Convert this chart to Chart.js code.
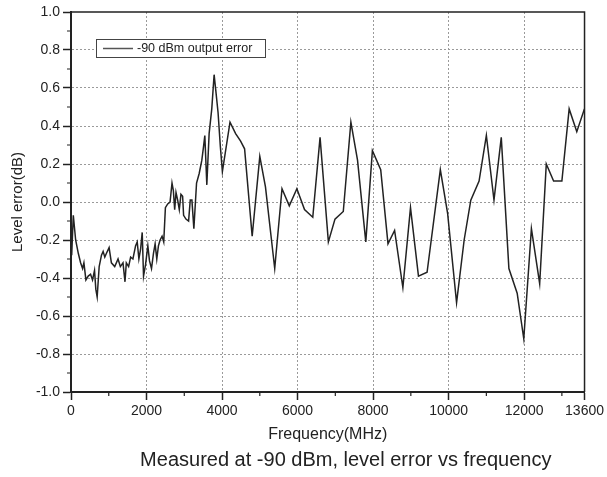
<!DOCTYPE html>
<html lang="en">
<head>
    <meta charset="UTF-8">
    <title>Level error vs frequency</title>
    <script src="https://cdn.jsdelivr.net/npm/chart.js"></script>
    <style>
        body {
            margin: 0;
            padding: 0;
            background: #ffffff;
        }
        canvas {
            display: block;
        }
    </style>
</head>
<body>
    <canvas id="errorChart" width="607" height="477"></canvas>

    <script>
        // frequency points (MHz) and level error (dB)
        const freqs = [18, 61, 123, 193, 254, 307, 342, 395, 456, 518,
            570, 623, 658, 693, 746, 807, 851, 895, 939, 1009,
            1070, 1158, 1246, 1307, 1377, 1430, 1465, 1526, 1579, 1640,
            1711, 1754, 1798, 1842, 1886, 1921, 1974, 2035, 2079, 2132,
            2184, 2228, 2272, 2316, 2360, 2412, 2456, 2500, 2561, 2623,
            2675, 2711, 2746, 2781, 2825, 2868, 2912, 2956, 2982, 3044,
            3114, 3158, 3202, 3254, 3325, 3395, 3465, 3509, 3544, 3597,
            3658, 3728, 3790, 3833, 3895, 3956, 4009, 4211, 4360, 4492,
            4597, 4798, 5000, 5150, 5395, 5588, 5781, 5982, 6184, 6403,
            6596, 6816, 6991, 7211, 7412, 7588, 7807, 7982, 8202, 8395,
            8570, 8789, 8991, 9202, 9430, 9781, 9974, 10211, 10412, 10588,
            10807, 11000, 11202, 11395, 11597, 11816, 11991, 12193, 12412, 12587,
            12781, 13000, 13193, 13395, 13597];

        const errs = [-0.28, -0.07, -0.20, -0.27, -0.32, -0.35, -0.32, -0.41, -0.39, -0.38,
            -0.41, -0.36, -0.46, -0.50, -0.34, -0.28, -0.26, -0.29, -0.27, -0.24,
            -0.32, -0.34, -0.30, -0.34, -0.32, -0.42, -0.32, -0.34, -0.29, -0.30,
            -0.23, -0.21, -0.30, -0.25, -0.16, -0.39, -0.33, -0.23, -0.31, -0.35,
            -0.27, -0.22, -0.30, -0.23, -0.20, -0.18, -0.21, -0.03, -0.01, 0.00,
            0.10, 0.06, -0.04, 0.05, 0.01, -0.04, 0.04, 0.03, -0.07, -0.09,
            -0.10, 0.01, 0.01, -0.14, 0.10, 0.15, 0.22, 0.29, 0.35, 0.09,
            0.36, 0.49, 0.67, 0.59, 0.47, 0.29, 0.16, 0.42, 0.36, 0.32,
            0.28, -0.18, 0.24, 0.08, -0.35, 0.07, -0.02, 0.07, -0.04, -0.08,
            0.34, -0.21, -0.09, -0.05, 0.42, 0.22, -0.21, 0.27, 0.17, -0.22,
            -0.15, -0.45, -0.03, -0.39, -0.37, 0.17, -0.06, -0.53, -0.20, 0.01,
            0.11, 0.35, 0.01, 0.34, -0.35, -0.48, -0.72, -0.14, -0.43, 0.20,
            0.11, 0.11, 0.49, 0.37, 0.49];

        const xTicks = [0, 2000, 4000, 6000, 8000, 10000, 12000, 13600];
        const xMinor = [1000, 3000, 5000, 7000, 9000, 11000, 13000];
        const yTicks = [-1.0, -0.8, -0.6, -0.4, -0.2, 0.0, 0.2, 0.4, 0.6, 0.8, 1.0];
        const yMinor = [-0.9, -0.7, -0.5, -0.3, -0.1, 0.1, 0.3, 0.5, 0.7, 0.9];

        const seriesLabel = "-90 dBm output error";
        const ink = "#222222";
        const gridGray = "#9a9a9a";

        // top/right frame, minor ticks and the boxed legend inside the plot
        const framePlugin = {
            id: "frame",
            afterLayout(chart) {
                // the caption sits a bit right of the canvas centre in the original
                const t = chart.titleBlock;
                if (t) {
                    t.left = chart.chartArea.left + 36;
                    t.right = chart.chartArea.right;
                }
            },
            afterDraw(chart) {
                const { ctx, chartArea: a, scales } = chart;
                ctx.save();
                ctx.strokeStyle = ink;
                ctx.lineWidth = 1.5;
                ctx.beginPath();
                ctx.moveTo(a.left, a.top);
                ctx.lineTo(a.right, a.top);
                ctx.lineTo(a.right, a.bottom);
                ctx.stroke();

                ctx.lineWidth = 1.2;
                ctx.beginPath();
                xMinor.forEach(v => {
                    const px = scales.x.getPixelForValue(v);
                    ctx.moveTo(px, a.bottom);
                    ctx.lineTo(px, a.bottom + 4);
                });
                yMinor.forEach(v => {
                    const py = scales.y.getPixelForValue(v);
                    ctx.moveTo(a.left - 4, py);
                    ctx.lineTo(a.left, py);
                });
                ctx.stroke();

                // legend box
                const bx = a.left + 25, by = a.top + 27, bw = 169, bh = 18;
                ctx.fillStyle = "#ffffff";
                ctx.fillRect(bx, by, bw, bh);
                ctx.strokeStyle = "#444444";
                ctx.lineWidth = 1;
                ctx.strokeRect(bx + 0.5, by + 0.5, bw, bh);
                ctx.strokeStyle = "#555555";
                ctx.lineWidth = 1.5;
                ctx.beginPath();
                ctx.moveTo(bx + 7, by + bh / 2 + 0.5);
                ctx.lineTo(bx + 37, by + bh / 2 + 0.5);
                ctx.stroke();
                ctx.fillStyle = ink;
                ctx.font = "12.5px 'Liberation Sans', Arial, sans-serif";
                ctx.textBaseline = "middle";
                ctx.fillText(chart.data.datasets[0].label, bx + 41, by + bh / 2 + 1);
                ctx.restore();
            }
        };

        const errorChart = new Chart(document.getElementById("errorChart"), {
            type: "line",
            data: {
                datasets: [{
                    label: seriesLabel,
                    data: freqs.map((f, i) => ({ x: f, y: errs[i] })),
                    borderColor: ink,
                    borderWidth: 1.5,
                    pointRadius: 0,
                    tension: 0,
                    fill: false
                }]
            },
            options: {
                responsive: false,
                animation: false,
                devicePixelRatio: 1,
                layout: { padding: { top: 12, right: 20, left: 0, bottom: 0 } },
                font: { family: "'Liberation Sans', Arial, sans-serif" },
                plugins: {
                    legend: { display: false },
                    tooltip: { enabled: false },
                    title: {
                        display: true,
                        position: "bottom",
                        text: "Measured at -90 dBm, level error vs frequency",
                        color: ink,
                        font: { size: 20, weight: "normal", family: "'Liberation Sans', Arial, sans-serif" },
                        padding: { top: 4, bottom: 5 }
                    }
                },
                scales: {
                    x: {
                        type: "linear",
                        min: 0,
                        max: 13600,
                        afterBuildTicks: s => { s.ticks = xTicks.map(v => ({ value: v })); },
                        afterFit: s => { s.height = 52; },
                        ticks: {
                            color: ink,
                            padding: 3,
                            maxRotation: 0,
                            autoSkip: false,
                            font: { size: 14 },
                            callback: v => String(v)
                        },
                        grid: {
                            color: c => (c.tick && (c.tick.value === 0 || c.tick.value === 13600)) ? "rgba(0,0,0,0)" : gridGray,
                            lineWidth: 1,
                            tickColor: ink,
                            tickLength: 8,
                            tickWidth: 1.5
                        },
                        border: { color: ink, width: 2, dash: [2, 2] },
                        title: {
                            display: true,
                            text: "Frequency(MHz)",
                            color: ink,
                            font: { size: 16 },
                            padding: { top: 0, bottom: 0 }
                        }
                    },
                    y: {
                        min: -1,
                        max: 1,
                        afterBuildTicks: s => { s.ticks = yTicks.map(v => ({ value: v })); },
                        afterFit: s => { s.width = 71; },
                        ticks: {
                            color: ink,
                            padding: 3,
                            font: { size: 14 },
                            callback: v => v.toFixed(1)
                        },
                        grid: {
                            color: c => (c.tick && Math.abs(Math.abs(c.tick.value) - 1) < 1e-9) ? "rgba(0,0,0,0)" : gridGray,
                            lineWidth: 1,
                            tickColor: ink,
                            tickLength: 8,
                            tickWidth: 1.5
                        },
                        border: { color: ink, width: 2, dash: [2, 2] },
                        title: {
                            display: true,
                            text: "Level error(dB)",
                            color: ink,
                            font: { size: 15 },
                            padding: { top: 9, bottom: 0 }
                        }
                    }
                }
            },
            plugins: [framePlugin]
        });
    </script>
</body>
</html>
